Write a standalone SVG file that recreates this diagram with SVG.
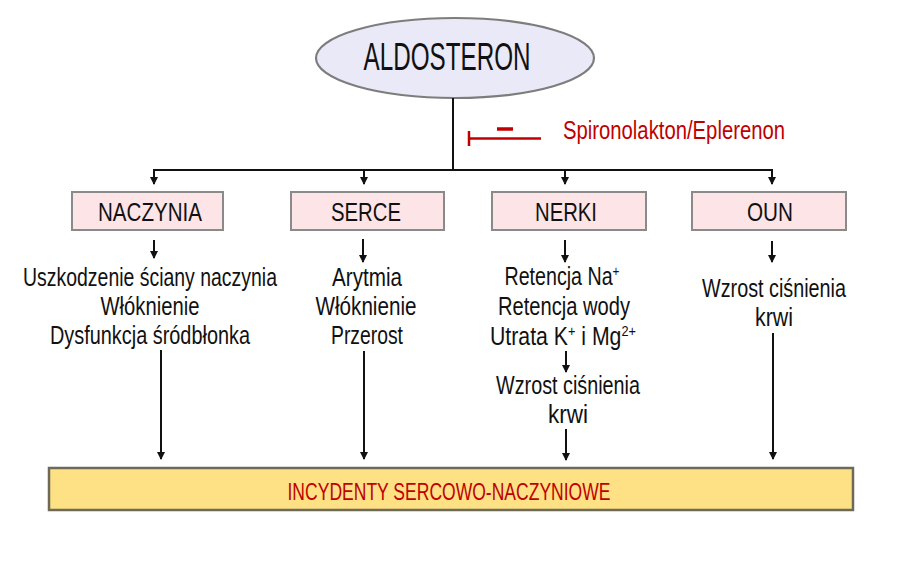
<svg xmlns="http://www.w3.org/2000/svg" width="898" height="564" viewBox="0 0 898 564">
<style>
text{font-family:"Liberation Sans","DejaVu Sans",sans-serif;text-anchor:middle;fill:#111}
.big{font-size:39px}
.lbl{font-size:26px}
.t{font-size:25px}
.red{fill:#c00000}
.box{fill:#fde4e6;stroke:#8a8a8a;stroke-width:2}
.c{stroke:#111;stroke-width:2;fill:none}
.sup{font-size:15px}
</style>
<defs>
<marker id="a2" markerUnits="userSpaceOnUse" markerWidth="8" markerHeight="8" refX="7" refY="4" orient="auto" viewBox="0 0 8 8">
<path d="M0,0 L8,4 L0,8 Z" fill="#111"/>
</marker>
</defs>
<rect width="898" height="564" fill="#fff"/>

<g id="aldosteron">
<ellipse cx="455" cy="58" rx="139" ry="40" fill="#e9e9f8" stroke="#7d7d7d" stroke-width="2.2"/>
<text class="big" x="447" y="70" textLength="167" lengthAdjust="spacingAndGlyphs">ALDOSTERON</text>
</g>

<g id="inhibitor">
<line x1="469" y1="131" x2="469" y2="146" stroke="#c00000" stroke-width="2.5"/>
<line x1="469" y1="138.5" x2="541" y2="138.5" stroke="#c00000" stroke-width="2.5"/>
<line x1="497" y1="129" x2="513" y2="129" stroke="#c00000" stroke-width="3.5"/>
<text class="red" x="674" y="139" font-size="25" textLength="222" lengthAdjust="spacingAndGlyphs">Spironolakton/Eplerenon</text>
</g>

<g id="connectors">
<polyline class="c" points="453,98 453,170"/>
<polyline class="c" points="154,178 154,170 772,170 772,178"/>
<line class="c" x1="364" y1="170" x2="364" y2="184" style="marker-end:url(#a2)"/>
<line class="c" x1="565" y1="170" x2="565" y2="184" style="marker-end:url(#a2)"/>
<line class="c" x1="154" y1="176" x2="154" y2="184" style="marker-end:url(#a2)"/>
<line class="c" x1="772" y1="176" x2="772" y2="184" style="marker-end:url(#a2)"/>
<line class="c" x1="154" y1="240" x2="154" y2="258" style="marker-end:url(#a2)"/>
<line class="c" x1="363" y1="239" x2="363" y2="262" style="marker-end:url(#a2)"/>
<line class="c" x1="565" y1="240" x2="565" y2="262" style="marker-end:url(#a2)"/>
<line class="c" x1="772" y1="241" x2="772" y2="262" style="marker-end:url(#a2)"/>
<line class="c" x1="161" y1="350" x2="161" y2="459" style="marker-end:url(#a2)"/>
<line class="c" x1="364" y1="351" x2="364" y2="459" style="marker-end:url(#a2)"/>
<line class="c" x1="566" y1="351" x2="566" y2="372" style="marker-end:url(#a2)"/>
<line class="c" x1="566" y1="429" x2="566" y2="460" style="marker-end:url(#a2)"/>
<line class="c" x1="773" y1="333" x2="773" y2="459" style="marker-end:url(#a2)"/>
</g>

<g id="naczynia">
<rect class="box" x="72" y="192" width="151" height="38"/>
<text class="lbl" x="150" y="221" textLength="104" lengthAdjust="spacingAndGlyphs">NACZYNIA</text>
</g>
<g id="serce">
<rect class="box" x="291" y="192" width="153" height="38"/>
<text class="lbl" x="366" y="221" textLength="70" lengthAdjust="spacingAndGlyphs">SERCE</text>
</g>
<g id="nerki">
<rect class="box" x="492" y="192" width="154" height="38"/>
<text class="lbl" x="566" y="221" textLength="62" lengthAdjust="spacingAndGlyphs">NERKI</text>
</g>
<g id="oun">
<rect class="box" x="692" y="192" width="154" height="38"/>
<text class="lbl" x="770" y="221" textLength="46" lengthAdjust="spacingAndGlyphs">OUN</text>
</g>

<g id="naczynia-effects">
<text class="t" x="150" y="286" textLength="254" lengthAdjust="spacingAndGlyphs">Uszkodzenie ściany naczynia</text>
<text class="t" x="150" y="315" textLength="99" lengthAdjust="spacingAndGlyphs">Włóknienie</text>
<text class="t" x="150" y="344" textLength="200" lengthAdjust="spacingAndGlyphs">Dysfunkcja śródbłonka</text>
</g>
<g id="serce-effects">
<text class="t" x="367" y="286" textLength="70" lengthAdjust="spacingAndGlyphs">Arytmia</text>
<text class="t" x="366" y="315" textLength="101" lengthAdjust="spacingAndGlyphs">Włóknienie</text>
<text class="t" x="367" y="344" textLength="72" lengthAdjust="spacingAndGlyphs">Przerost</text>
</g>
<g id="nerki-effects">
<text class="t" x="562" y="285" textLength="115" lengthAdjust="spacingAndGlyphs">Retencja Na<tspan class="sup" dy="-9">+</tspan></text>
<text class="t" x="564" y="315" textLength="132" lengthAdjust="spacingAndGlyphs">Retencja wody</text>
<text class="t" x="563" y="345" textLength="146" lengthAdjust="spacingAndGlyphs">Utrata K<tspan class="sup" dy="-9">+</tspan><tspan dy="9"> i Mg</tspan><tspan class="sup" dy="-9">2+</tspan></text>
<text class="t" x="568" y="394" textLength="144" lengthAdjust="spacingAndGlyphs">Wzrost ciśnienia</text>
<text class="t" x="568" y="423" textLength="40" lengthAdjust="spacingAndGlyphs">krwi</text>
</g>
<g id="oun-effects">
<text class="t" x="774" y="297" textLength="144" lengthAdjust="spacingAndGlyphs">Wzrost ciśnienia</text>
<text class="t" x="774" y="326" textLength="38" lengthAdjust="spacingAndGlyphs">krwi</text>
</g>

<g id="incydenty">
<rect x="49" y="468" width="804" height="42" fill="#fde184" stroke="#6e6a58" stroke-width="2.5"/>
<text class="red" x="449" y="500" font-size="23" textLength="323" lengthAdjust="spacingAndGlyphs">INCYDENTY SERCOWO-NACZYNIOWE</text>
</g>
</svg>
